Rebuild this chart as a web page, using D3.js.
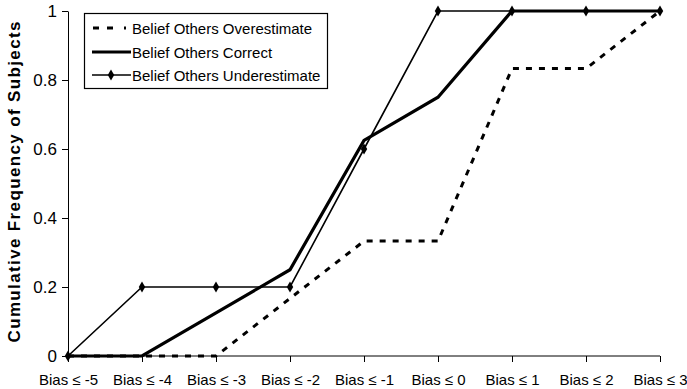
<!DOCTYPE html>
<html><head><meta charset="utf-8">
<script src="https://cdn.jsdelivr.net/npm/d3@7"></script>
<style>body{margin:0;background:#fff}svg{display:block}text{font-family:"Liberation Sans",Arial,sans-serif}</style>
</head><body><svg id="c" width="687" height="389"></svg>
<script>
const categories = ["Bias ≤ -5","Bias ≤ -4","Bias ≤ -3","Bias ≤ -2","Bias ≤ -1","Bias ≤ 0","Bias ≤ 1","Bias ≤ 2","Bias ≤ 3"];
const overestimate = [0,0,0,0.167,0.333,0.333,0.833,0.833,1];
const correct = [0,0,0.125,0.25,0.625,0.75,1,1,1];
const underestimate = [0,0.2,0.2,0.2,0.6,1,1,1,1];
const yTicks = [0,0.2,0.4,0.6,0.8,1];
const seriesNames = ["Belief Others Overestimate","Belief Others Correct","Belief Others Underestimate"];

const svg = d3.select("#c");
const x = d3.scalePoint().domain(categories).range([68,660]);
const y = d3.scaleLinear().domain([0,1]).range([356,11]);

// axes
const yAxis = svg.append("g").attr("transform","translate(68,0)")
  .call(d3.axisLeft(y).tickValues(yTicks).tickFormat(d=>d3.format("")(d)).tickSize(6).tickSizeOuter(0));
yAxis.select(".domain").attr("stroke","#000");
yAxis.selectAll("text").attr("font-size",17).attr("fill","#000").attr("x",-11);
const xAxis = svg.append("g").attr("transform","translate(0,356)")
  .call(d3.axisBottom(x).tickSize(6).tickSizeOuter(0));
xAxis.select(".domain").attr("stroke","#000").attr("d","M68,0H660");
xAxis.selectAll("text").attr("font-size",15).attr("fill","#000").attr("dy","1.3em");

svg.append("text").attr("transform","translate(20,182) rotate(-90)")
  .attr("text-anchor","middle").attr("font-size",17).attr("font-weight","bold")
  .attr("textLength",321).attr("lengthAdjust","spacing").text("Cumulative Frequency of Subjects");

const line = d3.line().x((d,i)=>x(categories[i])).y(d=>y(d));
svg.append("path").datum(overestimate).attr("d",line).attr("fill","none").attr("stroke","#000").attr("stroke-width",3).attr("stroke-dasharray","6,7");
svg.append("path").datum(correct).attr("d",line).attr("fill","none").attr("stroke","#000").attr("stroke-width",3.2);
svg.append("path").datum(underestimate).attr("d",line).attr("fill","none").attr("stroke","#000").attr("stroke-width",1.6);
const diamond = d3.symbol().type(d3.symbolDiamond).size(36);
svg.selectAll(".dm").data(underestimate).join("path")
  .attr("transform",(d,i)=>`translate(${x(categories[i])},${y(d)})`).attr("d",diamond).attr("fill","#000");

// legend
const lg = svg.append("g");
lg.append("rect").attr("x",84.5).attr("y",13.5).attr("width",243).attr("height",75).attr("fill","#fff").attr("stroke","#000").attr("stroke-width",1.2);
const rows = [28,52,75];
lg.append("line").attr("x1",93).attr("x2",127).attr("y1",rows[0]).attr("y2",rows[0]).attr("stroke","#000").attr("stroke-width",3).attr("stroke-dasharray","6,8,6,11,2");
lg.append("line").attr("x1",92).attr("x2",131).attr("y1",rows[1]).attr("y2",rows[1]).attr("stroke","#000").attr("stroke-width",3.2);
lg.append("line").attr("x1",92).attr("x2",131).attr("y1",rows[2]).attr("y2",rows[2]).attr("stroke","#000").attr("stroke-width",1.6);
lg.append("path").attr("transform",`translate(111,${rows[2]})`).attr("d",diamond).attr("fill","#000");
lg.selectAll(".lt").data(seriesNames).join("text").attr("x",132).attr("y",(d,i)=>rows[i]+5.5).attr("font-size",15).text(d=>d);
</script></body></html>
